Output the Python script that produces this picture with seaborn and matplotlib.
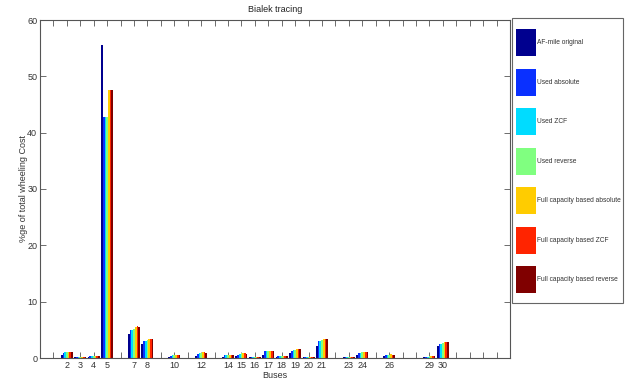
import matplotlib
matplotlib.use("Agg")
import matplotlib.pyplot as plt
from matplotlib.patches import Rectangle
import seaborn as sns
import pandas as pd

buses = [2, 3, 4, 5, 7, 8, 10, 12, 14, 15, 16, 17, 18, 19, 20, 21, 23, 24, 26, 29, 30]
series_names = ["AF-mile original", "Used absolute", "Used ZCF", "Used reverse",
                "Full capacity based absolute", "Full capacity based ZCF",
                "Full capacity based reverse"]
af_mile_original = [0.6, 0.1, 0.2, 55.5, 4.2, 2.5, 0.1, 0.3, 0.2, 0.3, 0.1, 0.6, 0.2, 0.9, 0.1, 2.1, 0.1, 0.5, 0.3, 0.1, 2.1]
used_absolute    = [0.9, 0.2, 0.3, 42.8, 4.9, 3.0, 0.4, 0.7, 0.5, 0.6, 0.2, 1.2, 0.4, 1.3, 0.2, 3.0, 0.2, 0.8, 0.5, 0.2, 2.4]
used_zcf         = [1.0, 0.2, 0.4, 42.8, 5.0, 3.1, 0.5, 0.8, 0.6, 0.7, 0.2, 1.3, 0.4, 1.5, 0.2, 3.1, 0.2, 0.9, 0.6, 0.2, 2.5]
used_reverse     = [1.1, 0.2, 0.4, 42.8, 5.2, 3.2, 0.5, 0.8, 0.6, 0.8, 0.2, 1.3, 0.4, 1.5, 0.2, 3.2, 0.2, 1.0, 0.6, 0.3, 2.6]
full_absolute    = [1.1, 0.2, 0.4, 47.5, 5.5, 3.4, 0.6, 1.0, 0.6, 0.8, 0.2, 1.3, 0.4, 1.6, 0.2, 3.3, 0.2, 1.1, 0.7, 0.3, 2.8]
full_zcf         = [1.1, 0.2, 0.4, 47.5, 5.6, 3.4, 0.6, 1.0, 0.6, 0.8, 0.2, 1.3, 0.4, 1.6, 0.2, 3.4, 0.2, 1.1, 0.6, 0.3, 2.8]
full_reverse     = [1.1, 0.2, 0.4, 47.5, 5.5, 3.4, 0.5, 0.9, 0.5, 0.7, 0.2, 1.3, 0.4, 1.6, 0.2, 3.4, 0.2, 1.1, 0.6, 0.3, 2.8]
colors = ["#00008f", "#0a30ff", "#00dcff", "#80ff80", "#ffcc00", "#ff2400", "#800000"]

all_values = [af_mile_original, used_absolute, used_zcf, used_reverse,
              full_absolute, full_zcf, full_reverse]
rows = []
for name, vals in zip(series_names, all_values):
    for b, v in zip(buses, vals):
        rows.append({"Bus": b, "Series": name, "Value": v})
df = pd.DataFrame(rows)

sns.set_style("white")
plt.rcParams["font.family"] = ["Liberation Sans", "DejaVu Sans"]

W, H = 627, 380
fig = plt.figure(figsize=(6.27, 3.80), dpi=100)
ax = fig.add_axes([40/W, 22/H, 470/W, 338/H])

sns.barplot(data=df, x="Bus", y="Value", hue="Series", hue_order=series_names,
            palette=colors, native_scale=True, width=0.9, linewidth=0,
            saturation=1, errorbar=None, ax=ax)

ax.set_xlim(0, 35)
ax.set_ylim(0, 60)
ticks = list(range(1, 35))
ax.set_xticks(ticks)
ax.set_xticklabels([str(t) if t in buses else "" for t in ticks], fontsize=6.5, color="#333333")
ax.set_yticks(range(0, 61, 10))
ax.set_yticklabels([str(v) for v in range(0, 61, 10)], fontsize=6.5, color="#333333")
ax.tick_params(direction="in", length=4, width=0.6, color="#555555",
               top=True, right=True, bottom=True, left=True, pad=2)
for s in ax.spines.values():
    s.set_visible(True)
    s.set_color("#555555")
    s.set_linewidth(0.8)

ax.set_title("Bialek tracing", fontsize=6.5, color="#222222", pad=6)
ax.set_xlabel("Buses", fontsize=6.5, color="#333333", labelpad=1)
ax.set_ylabel("%ge of total wheeling Cost", fontsize=6.5, color="#333333", labelpad=-1)

# legend frame
fig.patches.append(Rectangle((512/W, 1 - 303/H), 111/W, 285/H, transform=fig.transFigure,
                             facecolor="white", edgecolor="#666666", linewidth=0.8, zorder=0))

handles, labels = ax.get_legend_handles_labels()
ax.get_legend().remove()
leg = fig.legend(handles, labels, loc="upper left", bbox_to_anchor=(516/W, 1 - 29/H),
                 fontsize=4.8, frameon=False, handlelength=3.0,
                 handleheight=5.9, labelspacing=1.85, handletextpad=0.15,
                 borderpad=0.0, borderaxespad=0)
for t in leg.get_texts():
    t.set_color("#333333")

fig.savefig("out.png", dpi=100)
